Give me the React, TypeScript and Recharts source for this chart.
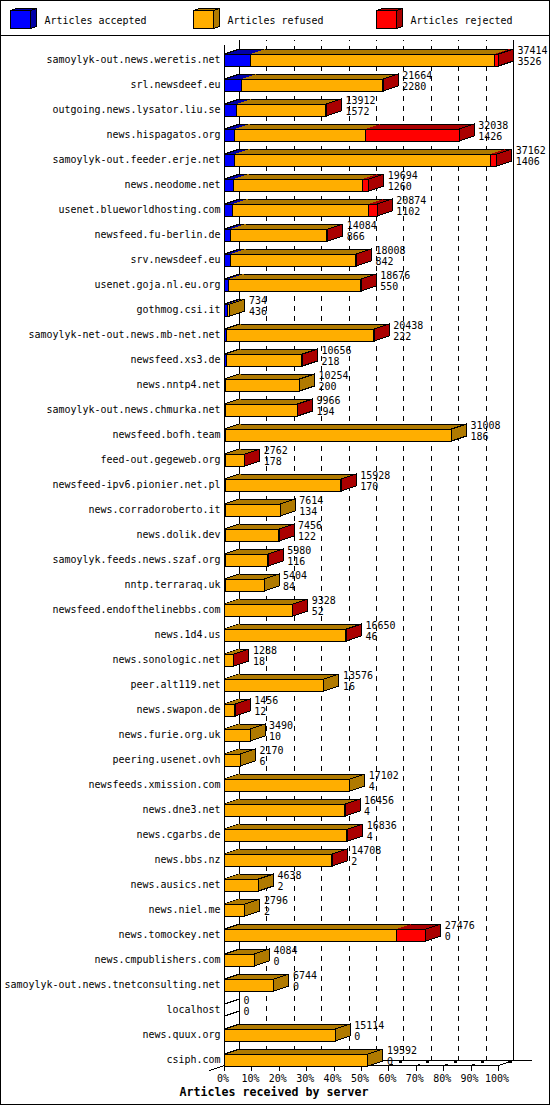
import { Bar, BarChart, CartesianGrid, LabelList, XAxis, YAxis } from "recharts";

const servers = [
  "samoylyk-out.news.weretis.net", "srl.newsdeef.eu", "outgoing.news.lysator.liu.se", "news.hispagatos.org",
  "samoylyk-out.feeder.erje.net", "news.neodome.net", "usenet.blueworldhosting.com", "newsfeed.fu-berlin.de",
  "srv.newsdeef.eu", "usenet.goja.nl.eu.org", "gothmog.csi.it", "samoylyk-net-out.news.mb-net.net",
  "newsfeed.xs3.de", "news.nntp4.net", "samoylyk-out.news.chmurka.net", "newsfeed.bofh.team",
  "feed-out.gegeweb.org", "newsfeed-ipv6.pionier.net.pl", "news.corradoroberto.it", "news.dolik.dev",
  "samoylyk.feeds.news.szaf.org", "nntp.terraraq.uk", "newsfeed.endofthelinebbs.com", "news.1d4.us",
  "news.sonologic.net", "peer.alt119.net", "news.swapon.de", "news.furie.org.uk",
  "peering.usenet.ovh", "newsfeeds.xmission.com", "news.dne3.net", "news.cgarbs.de",
  "news.bbs.nz", "news.ausics.net", "news.niel.me", "news.tomockey.net",
  "news.cmpublishers.com", "samoylyk-out.news.tnetconsulting.net", "localhost", "news.quux.org",
  "csiph.com",
];

const accepted = [
  3526, 2280, 1572, 1426, 1406, 1260, 1102, 866, 842, 550, 436, 222, 218, 200, 194, 186, 178, 170, 134, 122, 116,
  84, 52, 46, 18, 16, 12, 10, 6, 4, 4, 4, 2, 2, 2, 0, 0, 0, 0, 0, 0,
];

const refused = [
  33410, 19304, 12260, 17814, 34904, 17569, 18548, 13118, 17046, 18026, 298, 20106, 10338, 10054, 9712, 30822, 2524,
  15698, 7480, 7284, 5814, 5320, 9166, 16494, 1210, 13560, 1384, 3480, 2164, 17098, 16402, 16722, 14656, 4636, 2794,
  23470, 4084, 6744, 0, 15114, 19592,
];

const rejected = [
  478, 80, 80, 12798, 852, 865, 1224, 100, 120, 100, 0, 110, 100, 0, 60, 0, 60, 60, 0, 50, 50, 0, 110, 110, 60, 0,
  60, 0, 0, 0, 50, 110, 50, 0, 0, 4006, 0, 0, 0, 0, 0,
];

const tickPercents = [0, 10, 20, 30, 40, 50, 60, 70, 80, 90, 100];

const legendItems = [
  { label: "Articles accepted", key: "accepted" },
  { label: "Articles refused", key: "refused" },
  { label: "Articles rejected", key: "rejected" },
];

const data = servers.map((name, i) => ({
  name,
  accepted: accepted[i],
  refused: refused[i],
  rejected: rejected[i],
  offered: accepted[i] + refused[i] + rejected[i],
}));

const maxOffered = Math.max(...data.map((d) => d.offered));

const WIDTH = 550;
const HEIGHT = 1105;
const DEPTH_X = 15;
const DEPTH_Y = 5;
const LEFT = 224.5;
const RIGHT = 498.5;
const FLOOR_Y = 1065.5;
const WALL_TOP = 40;
const FONT = "'DejaVu Sans Mono', monospace";
const FONT_SIZE = 9.97;

const colors = {
  accepted: { front: "#0000ff", dark: "#0000a8" },
  refused: { front: "#ffae00", dark: "#b07a00" },
  rejected: { front: "#ff0000", dark: "#aa0000" },
};

const segments = ["accepted", "refused", "rejected"];

function Segment3D(props: any) {
  const { x, y, width, height, payload, segment } = props;
  const c = colors[segment];
  const pos = segments.indexOf(segment);
  const isFirst = segments.findIndex((k) => payload[k] > 0) === pos;
  const lastIdx = segments.reduce((acc, k, i) => (payload[k] > 0 ? i : acc), -1);
  const isLast = lastIdx === pos;
  const x2 = x + width;

  // nothing in this row at all: only the two edges of an empty box
  if (payload.offered === 0) {
    if (pos !== 0) return null;
    return (
      <g stroke="#000" fill="none" shapeRendering="crispEdges">
        <line x1={x} y1={y} x2={x + DEPTH_X} y2={y - DEPTH_Y} />
        <line x1={x} y1={y + height} x2={x + DEPTH_X} y2={y + height - DEPTH_Y} />
      </g>
    );
  }
  if (!(payload[segment] > 0)) return null;

  return (
    <g shapeRendering="crispEdges">
      <polygon
        points={`${x},${y} ${x + DEPTH_X},${y - DEPTH_Y} ${x2 + DEPTH_X},${y - DEPTH_Y} ${x2},${y}`}
        fill={c.dark}
      />
      <line x1={x + DEPTH_X} y1={y - DEPTH_Y} x2={x2 + DEPTH_X} y2={y - DEPTH_Y} stroke="#000" />
      {isFirst && <line x1={x} y1={y} x2={x + DEPTH_X} y2={y - DEPTH_Y} stroke="#000" />}
      {isLast && (
        <polygon
          points={`${x2},${y} ${x2 + DEPTH_X},${y - DEPTH_Y} ${x2 + DEPTH_X},${y + height - DEPTH_Y} ${x2},${y + height}`}
          fill={c.dark}
          stroke="#000"
        />
      )}
      <rect x={x} y={y} width={width} height={height} fill={c.front} stroke="#000" />
    </g>
  );
}

function ValueLabels(props: any) {
  const { x, y, width, height, index } = props;
  const row = data[index];
  const tx = x + width + DEPTH_X + 4;
  const mid = y + height / 2;
  return (
    <text fontFamily={FONT} fontSize={FONT_SIZE} fill="#000">
      <tspan x={tx} y={mid - 6}>{row.offered}</tspan>
      <tspan x={tx} y={mid + 5}>{row.accepted}</tspan>
    </text>
  );
}

function PercentTick(props: any) {
  const { x, payload } = props;
  const pct = Math.round((payload.value / maxOffered) * 100);
  return (
    <g>
      <line x1={x} y1={FLOOR_Y} x2={x} y2={FLOOR_Y + 5} stroke="#000" shapeRendering="crispEdges" />
      <text x={x - 1.5} y={FLOOR_Y + 16} textAnchor="middle" fontFamily={FONT} fontSize={FONT_SIZE} fill="#000">
        {pct}%
      </text>
    </g>
  );
}

function BackLine(props: any) {
  const { x1 } = props;
  const backY = FLOOR_Y - DEPTH_Y;
  return (
    <g stroke="#000" fill="none" shapeRendering="crispEdges">
      <line x1={x1 + DEPTH_X} y1={backY} x2={x1 + DEPTH_X} y2={WALL_TOP} strokeDasharray="5 5" />
      <line x1={x1} y1={FLOOR_Y} x2={x1 + 4} y2={FLOOR_Y - 1.5} />
      <line x1={x1 + 10} y1={FLOOR_Y - 3.5} x2={x1 + 13} y2={backY + 1} strokeWidth={2} />
    </g>
  );
}

function Swatch({ x, tone }: { x: number; tone: { front: string; dark: string } }) {
  const y = 10.5;
  const w = 20;
  const h = 18;
  const dx = 6;
  const dy = 2;
  return (
    <g stroke="#000" shapeRendering="crispEdges">
      <polygon points={`${x},${y} ${x + dx},${y - dy} ${x + w + dx},${y - dy} ${x + w},${y}`} fill={tone.dark} />
      <polygon
        points={`${x + w},${y} ${x + w + dx},${y - dy} ${x + w + dx},${y + h - dy} ${x + w},${y + h}`}
        fill={tone.dark}
      />
      <rect x={x} y={y} width={w} height={h} fill={tone.front} />
    </g>
  );
}

const legendX = [10.5, 193.5, 376.5];

function Frame() {
  return (
    <g>
      <rect x={0.5} y={0.5} width={WIDTH - 1} height={HEIGHT - 1} fill="none" stroke="#000" shapeRendering="crispEdges" />
      <line x1={0} y1={35.5} x2={WIDTH} y2={35.5} stroke="#000" shapeRendering="crispEdges" />
      {legendItems.map((item, i) => (
        <g key={item.key}>
          <Swatch x={legendX[i]} tone={colors[item.key]} />
          <text x={legendX[i] + 34} y={24} fontFamily={FONT} fontSize={FONT_SIZE} fill="#000">
            {item.label}
          </text>
        </g>
      ))}
      <text x={274} y={1096} textAnchor="middle" fontFamily={FONT} fontSize={11.63} fontWeight="bold" fill="#000">
        Articles received by server
      </text>
      <g stroke="#000" fill="none" shapeRendering="crispEdges">
        <line x1={LEFT} y1={45} x2={LEFT} y2={FLOOR_Y} />
        <line x1={LEFT + DEPTH_X} y1={WALL_TOP} x2={LEFT + DEPTH_X} y2={FLOOR_Y - DEPTH_Y} />
        <line x1={RIGHT + DEPTH_X} y1={WALL_TOP} x2={RIGHT + DEPTH_X} y2={FLOOR_Y - DEPTH_Y} />
        <line x1={LEFT} y1={FLOOR_Y} x2={RIGHT} y2={FLOOR_Y} />
        <line x1={LEFT + DEPTH_X} y1={FLOOR_Y - DEPTH_Y} x2={532} y2={FLOOR_Y - DEPTH_Y} />
        <line x1={LEFT} y1={FLOOR_Y} x2={LEFT - DEPTH_X} y2={FLOOR_Y + DEPTH_Y} />
        <line x1={RIGHT} y1={FLOOR_Y} x2={RIGHT + DEPTH_X} y2={FLOOR_Y - DEPTH_Y} />
      </g>
    </g>
  );
}

export default function App() {
  return (
    <div style={{ width: WIDTH, height: HEIGHT }}>
      <style>{"body{margin:0;background:#fff}svg{display:block}"}</style>
      <BarChart
        width={WIDTH}
        height={HEIGHT}
        data={data}
        layout="vertical"
        margin={{ top: 47, right: WIDTH - RIGHT, bottom: 0, left: 0 }}
        barSize={12}
      >
        <Frame />
        <CartesianGrid horizontal={false} vertical={(p: any) => <BackLine key={p.key} {...p} />} />
        <XAxis
          type="number"
          domain={[0, maxOffered]}
          ticks={tickPercents.map((p) => (p / 100) * maxOffered)}
          interval={0}
          height={33}
          axisLine={false}
          tickLine={false}
          tick={PercentTick}
        />
        <YAxis
          type="category"
          dataKey="name"
          width={LEFT}
          interval={0}
          axisLine={false}
          tickLine={false}
          tickSize={0}
          tickMargin={4}
          tick={{ fontFamily: FONT, fontSize: FONT_SIZE, fill: "#000" }}
        />
        {segments.map((key) => (
          <Bar
            key={key}
            dataKey={key}
            stackId="a"
            isAnimationActive={false}
            shape={(p: any) => <Segment3D {...p} segment={key} />}
          >
            {key === "rejected" && <LabelList content={ValueLabels} />}
          </Bar>
        ))}
      </BarChart>
    </div>
  );
}
